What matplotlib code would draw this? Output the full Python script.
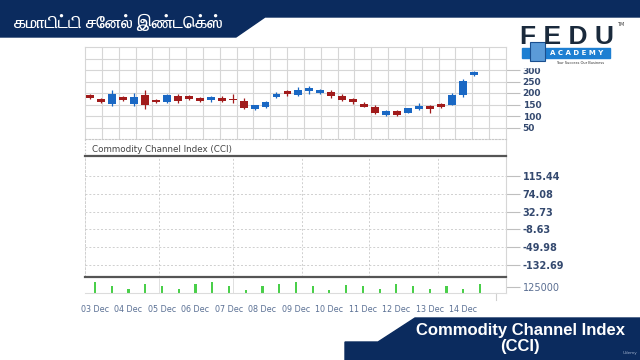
import numpy as np
import matplotlib
matplotlib.use("Agg")
import matplotlib.pyplot as plt
from matplotlib import font_manager
from matplotlib.ft2font import FT2Font
from matplotlib.patches import Polygon, Rectangle

# data
opens = [190, 174, 153, 183, 154, 190, 171, 163, 186, 189, 179, 169, 180, 176, 166, 129, 140, 181,
         210, 190, 207, 200, 204, 186, 174, 154, 141, 103, 120, 114, 129, 143, 151, 150, 190, 279]
closes = [179, 161, 197, 170, 181, 147, 160, 191, 164, 176, 167, 183, 167, 170, 136, 146, 160, 197,
          197, 211, 221, 213, 189, 171, 160, 141, 114, 123, 104, 133, 144, 129, 137, 190, 253, 293]
highs = [195, 177, 211, 189, 200, 211, 174, 196, 197, 193, 183, 189, 186, 196, 179, 150, 164, 206,
         214, 224, 229, 217, 211, 197, 179, 160, 146, 126, 124, 136, 157, 150, 157, 200, 260, 297]
lows = [175, 157, 143, 166, 143, 131, 157, 157, 157, 171, 160, 163, 163, 157, 129, 126, 136, 177,
        186, 186, 196, 196, 177, 167, 154, 137, 107, 101, 101, 111, 126, 111, 133, 146, 181, 274]

volumes = [225000, 144000, 81000, 175000, 144000, 81000, 175000, 225000, 144000, 62500, 144000, 175000,
           225000, 144000, 62500, 162500, 131000, 81000, 175000, 144000, 81000, 131000, 81000, 175000]

date_labels = ["03 Dec", "04 Dec", "05 Dec", "06 Dec", "07 Dec", "08 Dec",
               "09 Dec", "10 Dec", "11 Dec", "12 Dec", "13 Dec", "14 Dec"]
price_ticks = [50, 100, 150, 200, 250, 300]
cci_labels = ["115.44", "74.08", "32.73", "-8.63", "-49.98", "-132.69"]
vol_tick = 125000

title_ta = "கமாடிட்டி சேனல் இண்டெக்ஸ்"
banner_lines = ["Commodity Channel Index", "(CCI)"]

NAVY = "#0b2b5e"
RED = "#a11b1b"
BLUE = "#1a68c4"
GRID = "#d6d6d6"
TICKC = "#34496f"

W, H = 640, 360

# look for a font that has Tamil letters
tamil_family = ["DejaVu Sans"]
for path in sorted(font_manager.findSystemFonts()):
    try:
        if 0x0B95 in FT2Font(path).get_charmap():
            font_manager.fontManager.addfont(path)
            tamil_family = [font_manager.FontProperties(fname=path).get_name(), "DejaVu Sans"]
            if "Bold" in path:
                break
    except Exception:
        pass


def box(l, t, r, b):
    return [l / W, 1 - b / H, (r - l) / W, (b - t) / H]


fig = plt.figure(figsize=(6.4, 3.6), dpi=100)
fig.patch.set_facecolor("white")

# background layer in pixel coords
bg = fig.add_axes([0, 0, 1, 1], zorder=-5)
bg.set_xlim(0, W)
bg.set_ylim(H, 0)
bg.axis("off")
bg.add_patch(Polygon([(0, 0), (W, 0), (W, 17), (265, 17), (236, 37), (0, 37)], color=NAVY))
bg.add_patch(Polygon([(W, 318), (415, 318), (378, 342), (345, 342), (345, H), (W, H)], color=NAVY))
bg.text(14, 22, title_ta, color="white", fontsize=12.5, va="center", fontweight="bold",
        family=tamil_family)
bg.text(520, 330, banner_lines[0], color="white", fontsize=12, fontweight="bold",
        family="Liberation Sans", ha="center", va="center")
bg.text(520, 347, banner_lines[1], color="white", fontsize=12, fontweight="bold",
        family="Liberation Sans", ha="center", va="center")

# price panel
ax = fig.add_axes(box(85, 47, 506, 139))
n = len(opens)
x = np.arange(n)
xmin, xmax = -0.456, 37.92
ax.set_xlim(xmin, xmax)
ax.set_ylim(0, 400)
for gx in np.linspace(xmin, xmax, 26)[1:-1]:
    ax.axvline(gx, color=GRID, lw=0.8, zorder=0)
for gy in range(50, 400, 50):
    ax.axhline(gy, color=GRID, lw=0.8, zorder=0)
for i in range(n):
    o, c = opens[i], closes[i]
    col = BLUE if c >= o else RED
    ax.vlines(x[i], lows[i], highs[i], color=col, lw=0.9, zorder=2)
    ax.bar(x[i], abs(c - o), bottom=min(o, c), width=0.72, color=col, zorder=3)
ax.set_xticks([])
ax.yaxis.tick_right()
ax.set_yticks(price_ticks)
ax.set_yticklabels([str(v) for v in price_ticks])
ax.tick_params(axis="y", length=10, color="#bfbfbf", pad=2, labelsize=6.5, labelcolor=TICKC)
for lab in ax.get_yticklabels():
    lab.set_fontweight("bold")
for s in ["top", "left", "right"]:
    ax.spines[s].set_color(GRID)
    ax.spines[s].set_linewidth(0.8)
ax.spines["bottom"].set_color("#c8c8c8")
ax.spines["bottom"].set_linestyle((0, (1.5, 1.5)))
ax.spines["bottom"].set_linewidth(0.8)

# header of the indicator panel
bg.plot([85, 85], [139, 156], color="#c8c8c8", lw=0.8, ls=(0, (1.5, 1.5)))
bg.plot([506, 506], [139, 156], color=GRID, lw=0.8)
bg.text(92, 149, "Commodity Channel Index (CCI)", color="#444444", fontsize=6.3, va="center")

# CCI panel (empty in the reference)
cx = fig.add_axes(box(85, 156, 506, 277))
cx.set_xlim(0, 1)
cx.set_ylim(-0.674, 6.124)
cx.set_xticks([])
pos = np.arange(len(cci_labels))[::-1]
cx.yaxis.tick_right()
cx.set_yticks(pos)
cx.set_yticklabels(cci_labels)
cx.tick_params(axis="y", length=10, color="#bfbfbf", pad=2, labelsize=7, labelcolor=TICKC)
for lab in cx.get_yticklabels():
    lab.set_fontweight("bold")
for p in pos:
    cx.axhline(p, color="#cfcfcf", lw=0.7, ls=(0, (2, 2)), zorder=0)
vlines_px = [159, 233, 302, 369, 438]
for vx in vlines_px:
    cx.axvline((vx - 85) / 421, color="#cfcfcf", lw=0.7, ls=(0, (2, 2)), zorder=0)
cx.spines["top"].set_color("#555555")
cx.spines["top"].set_linewidth(1.6)
cx.spines["bottom"].set_color("#555555")
cx.spines["bottom"].set_linewidth(1.6)
cx.spines["left"].set_color("#cfcfcf")
cx.spines["left"].set_linestyle((0, (2, 2)))
cx.spines["left"].set_linewidth(0.7)
cx.spines["right"].set_color(GRID)
cx.spines["right"].set_linewidth(0.8)

# volume panel
vx_ax = fig.add_axes(box(85, 278, 506, 293))
vx_ax.patch.set_alpha(0)
k = np.arange(len(volumes))
vx_ax.set_xlim(-0.6, 24.55)
vx_ax.set_ylim(0, 294000)
for vx in vlines_px[:2]:
    vx_ax.axvline(-0.6 + (vx - 85) / 16.74, color="#e0e0e0", lw=0.7, zorder=0)
vx_ax.bar(k, volumes, width=0.13, color="#49cf49", zorder=2)
vx_ax.set_xticks(k[::2])
vx_ax.set_xticklabels(date_labels)
vx_ax.tick_params(axis="x", length=0, pad=9, labelsize=5.8, labelcolor="#5a7094")
vx_ax.yaxis.tick_right()
vx_ax.set_yticks([vol_tick])
vx_ax.set_yticklabels([str(vol_tick)])
vx_ax.tick_params(axis="y", length=10, color="#bfbfbf", pad=2, labelsize=7, labelcolor="#5a6e92")
for s in ["top", "left"]:
    vx_ax.spines[s].set_visible(False)
vx_ax.spines["bottom"].set_color("#dcdcdc")
vx_ax.spines["bottom"].set_linewidth(0.8)
vx_ax.spines["right"].set_color(GRID)
vx_ax.spines["right"].set_linewidth(0.8)
bg.plot([496, 496], [293, 300], color="#d0d0d0", lw=0.8)

# logo on top
top = fig.add_axes([0, 0, 1, 1], zorder=10)
top.patch.set_alpha(0)
top.set_xlim(0, W)
top.set_ylim(H, 0)
top.axis("off")
top.add_patch(Rectangle((520, 22), 98, 45, color="white"))
top.text(567, 37, "F E D U", color="#1a2a3c", fontsize=19, fontweight="bold",
         family="Liberation Sans", ha="center", va="center")
top.text(621, 24, "TM", color="#333333", fontsize=3.5, ha="center", va="center")
top.add_patch(Rectangle((522, 48), 88, 10, color="#1d7fd2"))
top.text(577, 53, "A C A D E M Y", color="white", fontsize=5, fontweight="bold",
         ha="center", va="center")
top.add_patch(Rectangle((530, 42), 15, 19, facecolor="#5b9bd8", edgecolor="#1a4f8f", lw=0.8))
top.text(580, 62.5, "Your Success Our Business", color="#333333", fontsize=2.6, ha="center", va="center")
top.text(630, 353, "Udemy", color="#9fb0cc", fontsize=3, ha="center", va="center")

fig.savefig("out.png", dpi=100)
